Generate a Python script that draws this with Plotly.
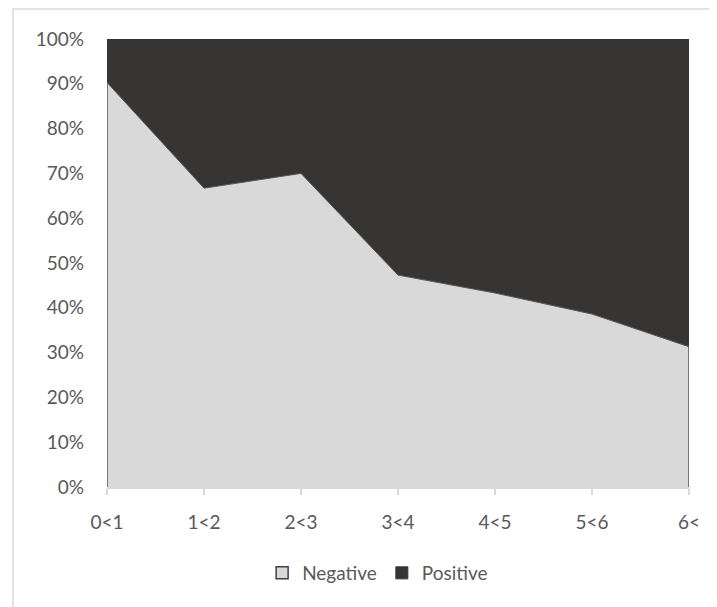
import plotly.graph_objects as go

categories = ["0<1", "1<2", "2<3", "3<4", "4<5", "5<6", "6<"]
negative = [0.903, 0.667, 0.700, 0.473, 0.433, 0.386, 0.313]
positive = [round(1 - v, 3) for v in negative]

LIGHT = "#d9d9d9"
DARK = "#373533"
EDGE = "#555555"
FONT = "Lato"

fig = go.Figure()
fig.add_trace(go.Scatter(
    x=categories, y=negative, name="Negative", mode="lines",
    stackgroup="one", fillcolor=LIGHT, showlegend=False,
    line=dict(color=EDGE, width=1),
))
fig.add_trace(go.Scatter(
    x=categories, y=positive, name="Positive", mode="lines",
    stackgroup="one", fillcolor=DARK, showlegend=False,
    line=dict(color=DARK, width=0.5),
))
# vertical borders of the Negative area at both ends
fig.add_trace(go.Scatter(
    x=[categories[0], categories[0], None, categories[-1], categories[-1]],
    y=[0, negative[0], None, 0, negative[-1]],
    mode="lines", line=dict(color=EDGE, width=1.5),
    showlegend=False, hoverinfo="skip",
))
# legend entries (square swatches)
fig.add_trace(go.Scatter(
    x=[None], y=[None], name="Negative", mode="markers",
    marker=dict(symbol="square", size=12, color=LIGHT, line=dict(color="#404040", width=1.5)),
))
fig.add_trace(go.Scatter(
    x=[None], y=[None], name="Positive", mode="markers",
    marker=dict(symbol="square", size=12, color=DARK, line=dict(color=DARK, width=1)),
))

fig.update_layout(
    width=709, height=599,
    margin=dict(l=99, r=28, t=31, b=120),
    paper_bgcolor="white", plot_bgcolor="white",
    font=dict(family=FONT, size=19, color="#595959"),
    showlegend=True,
    legend=dict(orientation="h", x=0.465, xanchor="center", y=-0.192, yanchor="middle",
                font=dict(family=FONT, size=19, color="#595959"),
                traceorder="normal", itemwidth=30),
    shapes=[dict(type="rect", xref="paper", yref="paper",
                 x0=-0.1615, x1=1.2, y0=-0.4, y1=1.067,
                 line=dict(color=LIGHT, width=1.5), fillcolor="rgba(0,0,0,0)", layer="below")],
)
fig.update_xaxes(
    type="category", range=[0, 6], showgrid=False, zeroline=False,
    showline=True, linecolor=LIGHT, linewidth=1.5,
    ticks="outside", ticklen=6, tickcolor=LIGHT, tickwidth=1.5,
    ticklabelstandoff=11,
)
fig.update_yaxes(
    range=[0, 1], dtick=0.1, tickformat=".0%", showgrid=False,
    zeroline=False, showline=False, ticks="", ticklabelstandoff=22,
)

fig.write_html("out.html")
